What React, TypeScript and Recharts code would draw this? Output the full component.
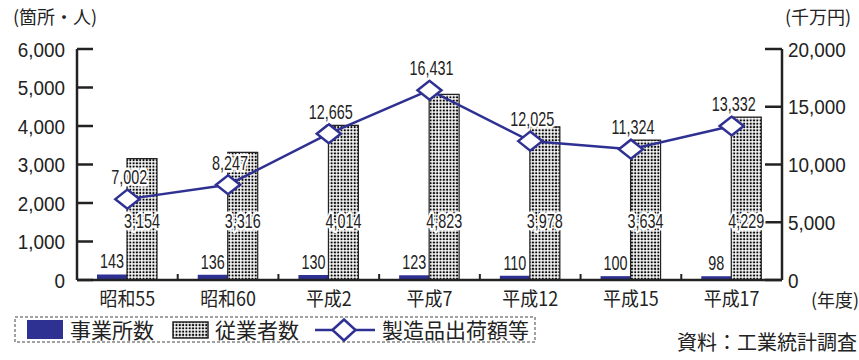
import React from 'react';
import { ComposedChart, Bar, Line, XAxis, YAxis, LabelList, Customized } from 'recharts';

const categories = ['昭和55', '昭和60', '平成2', '平成7', '平成12', '平成15', '平成17'];
const establishments = [143, 136, 130, 123, 110, 100, 98];
const employees = [3154, 3316, 4014, 4823, 3978, 3634, 4229];
const shipments = [7002, 8247, 12665, 16431, 12025, 11324, 13332];
const leftTicks = [0, 1000, 2000, 3000, 4000, 5000, 6000];
const rightTicks = [0, 5000, 10000, 15000, 20000];

const data = categories.map((c, i) => ({
  name: c,
  est: establishments[i],
  emp: employees[i],
  ship: shipments[i],
}));

const W = 859;
const H = 360;
const AXIS_W = 77;
const PLOT_W = W - AXIS_W * 2;
const HALF_BAND = PLOT_W / categories.length / 2;

const BLUE = '#2E3192';
const INK = '#222';
const NUM_FONT = "'Liberation Sans', Arial, sans-serif";
const JP_FONT = "'Noto Sans CJK JP', sans-serif";

const fmt = (v: number) => v.toLocaleString('en-US');

function SText(props: any) {
  const { x, y, anchor = 'middle', sx = 1, size, family, children, halo = false } = props;
  return (
    <text
      transform={`translate(${x},${y}) scale(${sx},1)`}
      textAnchor={anchor}
      fontSize={size}
      fontFamily={family}
      fill={INK}
      stroke={halo ? '#fff' : 'none'}
      strokeWidth={halo ? 5 : 0}
      strokeLinejoin="round"
      style={{ paintOrder: 'stroke' }}
    >
      {children}
    </text>
  );
}

const LeftTick = (props: any) => {
  const { x, y, payload } = props;
  return <SText x={x} y={y + 7.5} anchor="end" sx={0.9} size={21} family={NUM_FONT}>{fmt(payload.value)}</SText>;
};

const RightTick = (props: any) => {
  const { x, y, payload } = props;
  return <SText x={x} y={y + 7.5} anchor="start" sx={0.9} size={21} family={NUM_FONT}>{fmt(payload.value)}</SText>;
};

const XTick = (props: any) => {
  const { x, y, payload, index } = props;
  return (
    <g>
      {index < categories.length - 1 && (
        <line x1={x + HALF_BAND} x2={x + HALF_BAND} y1={y} y2={y - 6} stroke={INK} strokeWidth={2} />
      )}
      <SText x={x} y={y + 26} size={19.5} family={JP_FONT} sx={0.92}>{payload.value}</SText>
    </g>
  );
};

const EstLabel = (props: any) => {
  const { x, y, width, value } = props;
  return <SText x={x + width / 2} y={y - 6} sx={0.72} size={20} family={NUM_FONT}>{fmt(value)}</SText>;
};

const EmpLabel = (props: any) => {
  const { x, y, width, height, value } = props;
  return <SText x={x + width / 2} y={y + height - 52} sx={0.72} size={20} family={NUM_FONT} halo>{fmt(value)}</SText>;
};

const ShipLabel = (props: any) => {
  const { x, y, value } = props;
  return <SText x={x + 2} y={y - 15} sx={0.72} size={20} family={NUM_FONT} halo>{fmt(value)}</SText>;
};

const Diamond = (props: any) => {
  const { cx, cy } = props;
  if (cx == null || cy == null) return null;
  const w = 12;
  const h = 9.5;
  return (
    <polygon
      points={`${cx - w},${cy} ${cx},${cy - h} ${cx + w},${cy} ${cx},${cy + h}`}
      fill="#fff"
      stroke={BLUE}
      strokeWidth={2.5}
    />
  );
};

const Extras = () => (
  <g>
    <defs>
      <pattern id="dots" x="0" y="0" width="3.3" height="3.3" patternUnits="userSpaceOnUse">
        <rect x="0" y="0" width="3.3" height="3.3" fill="#fff" />
        <rect x="0.6" y="0.6" width="2" height="2" fill="#000" />
      </pattern>
    </defs>
    <SText x={13} y={24} anchor="start" size={18} family={JP_FONT}>(箇所・人)</SText>
    <SText x={785} y={24} anchor="start" size={18} family={JP_FONT}>(千万円)</SText>
    <SText x={811} y={307} anchor="start" size={18} family={JP_FONT}>(年度)</SText>
    <SText x={857} y={350} anchor="end" size={20} family={JP_FONT}>資料：工業統計調査</SText>
    <rect x={15} y={317} width={520} height={25} fill="none" stroke="#444" strokeWidth={1} strokeDasharray="3 2" />
    <rect x={27} y={320} width={36} height={19} fill={BLUE} />
    <SText x={70} y={338} anchor="start" size={21} family={JP_FONT}>事業所数</SText>
    <rect x={173} y={322} width={35} height={16} fill="url(#dots)" stroke={INK} strokeWidth={1.5} />
    <SText x={215} y={338} anchor="start" size={21} family={JP_FONT}>従業者数</SText>
    <line x1={315} x2={375} y1={330} y2={330} stroke={BLUE} strokeWidth={2.5} />
    <polygon points="332.5,330 344,319.5 355.5,330 344,340.5" fill="#fff" stroke={BLUE} strokeWidth={2.5} />
    <SText x={382} y={338} anchor="start" size={21} family={JP_FONT}>製造品出荷額等</SText>
  </g>
);

export default function App() {
  return (
    <div style={{ position: 'absolute', left: 0, top: 0, width: W, height: H, background: '#fff' }}>
      <ComposedChart
        width={W}
        height={H}
        data={data}
        margin={{ top: 49, right: 0, bottom: 50, left: 0 }}
        barSize={30}
        barGap={0}
      >
        <Customized component={Extras} />
        <XAxis
          dataKey="name"
          axisLine={{ stroke: INK, strokeWidth: 2.5 }}
          tickLine={false}
          tickSize={0}
          tickMargin={0}
          height={30}
          tick={<XTick />}
          interval={0}
        />
        <YAxis
          yAxisId="left"
          orientation="left"
          width={AXIS_W}
          domain={[0, 6000]}
          ticks={leftTicks}
          axisLine={{ stroke: INK, strokeWidth: 2.5 }}
          tickLine={{ stroke: INK, strokeWidth: 2.5 }}
          tickSize={-16}
          tickMargin={28}
          tick={<LeftTick />}
          interval={0}
        />
        <YAxis
          yAxisId="right"
          orientation="right"
          width={AXIS_W}
          domain={[0, 20000]}
          ticks={rightTicks}
          axisLine={{ stroke: INK, strokeWidth: 2.5 }}
          tickLine={{ stroke: INK, strokeWidth: 2.5 }}
          tickSize={-17}
          tickMargin={23}
          tick={<RightTick />}
          interval={0}
        />
        <Bar dataKey="est" yAxisId="left" fill={BLUE} isAnimationActive={false}>
          <LabelList dataKey="est" content={<EstLabel />} />
        </Bar>
        <Bar dataKey="emp" yAxisId="left" fill="url(#dots)" stroke={INK} strokeWidth={1.2} isAnimationActive={false}>
          <LabelList dataKey="emp" content={<EmpLabel />} />
        </Bar>
        <Line
          dataKey="ship"
          yAxisId="right"
          stroke={BLUE}
          strokeWidth={2.5}
          dot={<Diamond />}
          activeDot={false}
          isAnimationActive={false}
        >
          <LabelList dataKey="ship" content={<ShipLabel />} />
        </Line>
      </ComposedChart>
    </div>
  );
}
